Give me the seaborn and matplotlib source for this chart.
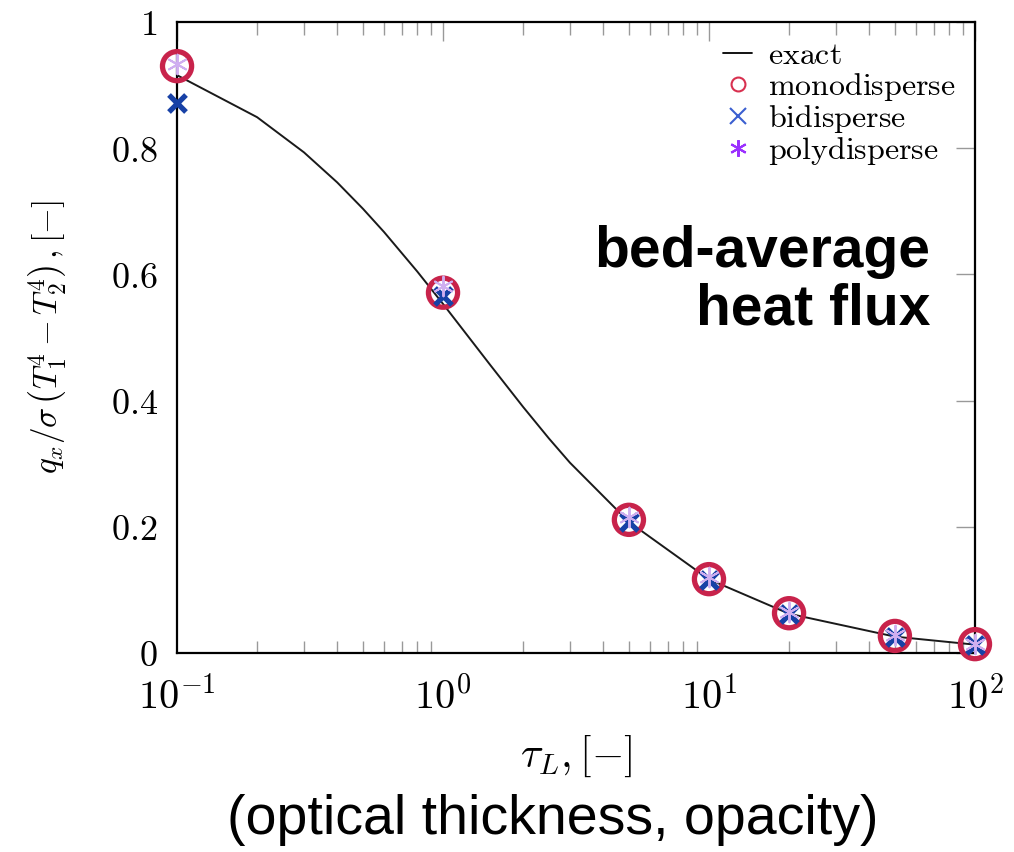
import matplotlib
matplotlib.use("Agg")
import matplotlib.pyplot as plt
import matplotlib.ticker as mticker
from matplotlib.lines import Line2D
import seaborn as sns
import pandas as pd
import numpy as np

# exact solution (radiative equilibrium, parallel plates)
tau_exact = [0.1, 0.2, 0.3, 0.4, 0.5, 0.6, 0.8, 1.0, 1.5, 2.0, 2.5, 3.0, 5.0, 10.0, 20.0, 50.0, 100.0]
q_exact = [0.9157, 0.8491, 0.7934, 0.7458, 0.7040, 0.6672, 0.6046, 0.5532, 0.4572, 0.3900,
           0.3401, 0.3016, 0.2077, 0.1167, 0.0622, 0.0259, 0.0132]

tau_sim = [0.1, 1.0, 5.0, 10.0, 20.0, 50.0, 100.0]
q_mono = [0.930, 0.571, 0.211, 0.117, 0.063, 0.027, 0.014]
q_bi = [0.872, 0.565, 0.208, 0.115, 0.061, 0.025, 0.013]
q_poly = [0.934, 0.582, 0.215, 0.120, 0.065, 0.028, 0.015]

legend_labels = ["exact", "monodisperse", "bidisperse", "polydisperse"]

sns.set_theme(style="white")
plt.rcParams["mathtext.fontset"] = "cm"
plt.rcParams["font.family"] = ["Liberation Sans", "DejaVu Sans"]
plt.rcParams["text.color"] = "black"
plt.rcParams["axes.labelcolor"] = "black"
plt.rcParams["xtick.color"] = "#999999"
plt.rcParams["ytick.color"] = "#999999"
plt.rcParams["xtick.labelcolor"] = "black"
plt.rcParams["ytick.labelcolor"] = "black"

fig = plt.figure(figsize=(10.14, 8.52), dpi=100)
ax = fig.add_axes([0.1746, 0.2336, 0.7869, 0.7406])

df_exact = pd.DataFrame({"tau": tau_exact, "q": q_exact})
sns.lineplot(data=df_exact, x="tau", y="q", color="#1a1a1a", linewidth=1.4, ax=ax, zorder=2)

sns.scatterplot(x=tau_sim, y=q_mono, marker="o", s=440, facecolor="none",
                edgecolor="#c8234b", linewidth=3.8, ax=ax, zorder=3, clip_on=False)
sns.scatterplot(x=tau_sim, y=q_bi, marker="x", s=150, color="#1741a6",
                linewidth=3.8, ax=ax, zorder=4, clip_on=False)
sns.scatterplot(x=tau_sim, y=q_poly, marker=(6, 2, 0), s=200, color="#cfaef0",
                linewidth=1.4, ax=ax, zorder=5, clip_on=False)

ax.set_xscale("log")
ax.set_xlim(0.1, 100)
ax.set_ylim(0, 1)
ax.set_yticks([0, 0.2, 0.4, 0.6, 0.8, 1])
ax.yaxis.set_major_formatter(mticker.FuncFormatter(lambda v, p: f"${v:g}$"))
ax.xaxis.set_major_locator(mticker.FixedLocator([0.1, 1, 10, 100]))
ax.xaxis.set_major_formatter(mticker.FuncFormatter(
    lambda v, p: r"$10^{%d}$" % int(round(np.log10(v)))))
ax.xaxis.set_minor_locator(mticker.LogLocator(base=10, subs=range(2, 10)))
ax.xaxis.set_minor_formatter(mticker.NullFormatter())

ax.tick_params(axis="both", which="major", direction="in", length=14, width=1,
               top=True, right=True, pad=12)
ax.tick_params(axis="x", which="minor", direction="in", length=9, width=1,
               top=True, bottom=True)
ax.tick_params(axis="x", which="major", labelsize=29, pad=17)
ax.tick_params(axis="y", which="major", labelsize=26, pad=14)
for sp in ax.spines.values():
    sp.set_color("black")
    sp.set_linewidth(1.6)

ax.set_xlabel(r"$\tau_L,[-]$", fontsize=30, labelpad=12)
ax.set_ylabel(r"$q_x/\sigma\,\left(T_1^4-T_2^4\right)\,,[-]$", fontsize=24, labelpad=30)

handles = [
    Line2D([], [], color="black", linewidth=1.3),
    Line2D([], [], linestyle="none", marker="o", markersize=10, markerfacecolor="none",
           markeredgecolor="#d8304f", markeredgewidth=1.5),
    Line2D([], [], linestyle="none", marker="x", markersize=12, color="#3b5fd0",
           markeredgewidth=1.5),
    Line2D([], [], linestyle="none", marker=(6, 2, 0), markersize=12, color="#9b30ff",
           markeredgewidth=1.5),
]
ax.legend(handles, [rf"$\mathrm{{{t}}}$" for t in legend_labels], loc="upper right",
          frameon=False, fontsize=23, handlelength=0.9, handletextpad=0.5,
          labelspacing=0.0, borderaxespad=0.2, bbox_to_anchor=(1.0, 1.0))

ax.text(0.944, 0.59, "bed-average\nheat flux", transform=ax.transAxes, ha="right",
        va="center", fontsize=41, fontweight="bold", linespacing=1.1,
        family=["Liberation Sans", "DejaVu Sans"])
fig.text(0.545, 0.037, "(optical thickness, opacity)", ha="center", va="center",
         fontsize=40, family=["Liberation Sans", "DejaVu Sans"])

fig.savefig("out.png", dpi=100)
